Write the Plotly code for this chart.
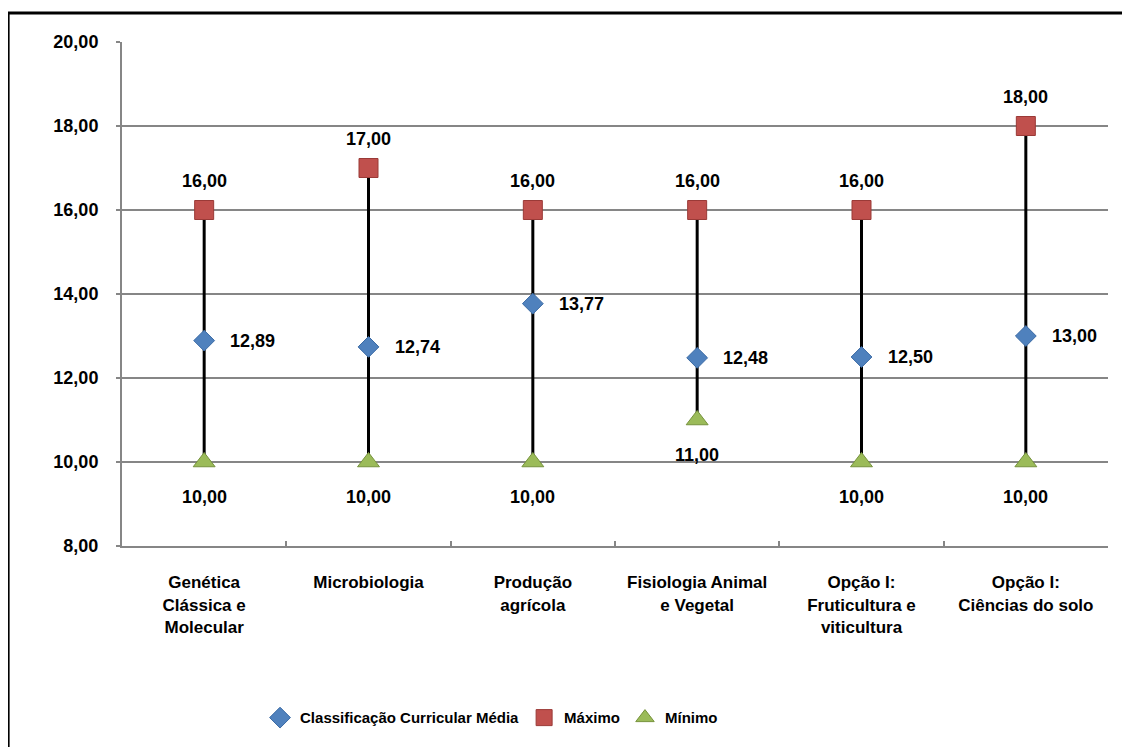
import plotly.graph_objects as go

categories = ["Genética<br>Clássica e<br>Molecular", "Microbiologia", "Produção<br>agrícola",
              "Fisiologia Animal<br>e Vegetal", "Opção I:<br>Fruticultura e<br>viticultura",
              "Opção I:<br>Ciências do solo"]
media = [12.89, 12.74, 13.77, 12.48, 12.50, 13.00]
maximo = [16.00, 17.00, 16.00, 16.00, 16.00, 18.00]
minimo = [10.00, 10.00, 10.00, 11.00, 10.00, 10.00]
y_ticks = [8, 10, 12, 14, 16, 18, 20]

FONT = "Liberation Sans"
fmt = lambda v: f"{v:.2f}".replace(".", ",")

fig = go.Figure()

# high-low lines
hx, hy = [], []
for c, lo, hi in zip(categories, minimo, maximo):
    hx += [c, c, None]
    hy += [lo, hi, None]
fig.add_trace(go.Scatter(x=hx, y=hy, mode="lines", line=dict(color="black", width=3),
                         showlegend=False, hoverinfo="skip"))

fig.add_trace(go.Scatter(x=categories, y=media, mode="markers", name="Classificação Curricular Média",
                         marker=dict(symbol="diamond", size=16, color="#4F81BD",
                                     line=dict(color="#3B6BA5", width=1))))
fig.add_trace(go.Scatter(x=categories, y=maximo, mode="markers", name="Máximo",
                         marker=dict(symbol="square", size=19, color="#C0504D",
                                     line=dict(color="#9A3A37", width=1))))
fig.add_trace(go.Scatter(x=categories, y=minimo, mode="markers", name="Mínimo",
                         marker=dict(symbol="triangle-up", size=19, color="#9BBB59",
                                     line=dict(color="#76923C", width=1))))

lab_font = dict(family=FONT, size=18, color="black", weight="bold")
anns = []
for c, v in zip(categories, maximo):
    anns.append(dict(x=c, y=v, text=fmt(v), showarrow=False, yshift=29, font=lab_font))
for c, v in zip(categories, media):
    anns.append(dict(x=c, y=v, text=fmt(v), showarrow=False, xanchor="left", xshift=24, font=lab_font))
for c, v in zip(categories, minimo):
    anns.append(dict(x=c, y=v, text=fmt(v), showarrow=False, yshift=-35, font=lab_font))

fig.update_layout(
    width=1122, height=739,
    margin=dict(l=114, r=22, t=34, b=201),
    paper_bgcolor="white", plot_bgcolor="white",
    separators=",.",
    annotations=anns,
    showlegend=True,
    legend=dict(orientation="h", x=0.14, xanchor="left", y=-0.341, yanchor="middle",
                font=dict(family=FONT, size=15, color="black", weight="bold"),
                itemwidth=30, tracegroupgap=0),
    shapes=[dict(type="rect", xref="paper", yref="paper", x0=-0.1155, x1=1.05, y0=-0.45, y1=1.0575,
                 line=dict(color="black", width=3), fillcolor="rgba(0,0,0,0)", layer="below")],
)
fig.update_xaxes(type="category", categoryorder="array", categoryarray=categories,
                 range=[-0.5, 5.5],
                 showline=True, linecolor="#868686", linewidth=2, showgrid=False,
                 ticks="inside", ticklen=5, tickcolor="#868686", tickwidth=2, tickson="boundaries",
                 tickfont=dict(family=FONT, size=17, color="black", weight="bold"), ticklabelstandoff=20)
fig.update_yaxes(range=[8, 20], tickvals=y_ticks, ticktext=[fmt(v) for v in y_ticks],
                 showline=True, linecolor="#868686", linewidth=2,
                 showgrid=True, gridcolor="#868686", gridwidth=2, zeroline=False,
                 ticks="outside", ticklen=4, tickcolor="#868686", tickwidth=2,
                 tickfont=dict(family=FONT, size=18, color="black", weight="bold"), ticklabelstandoff=14)

fig.write_html("out.html")
